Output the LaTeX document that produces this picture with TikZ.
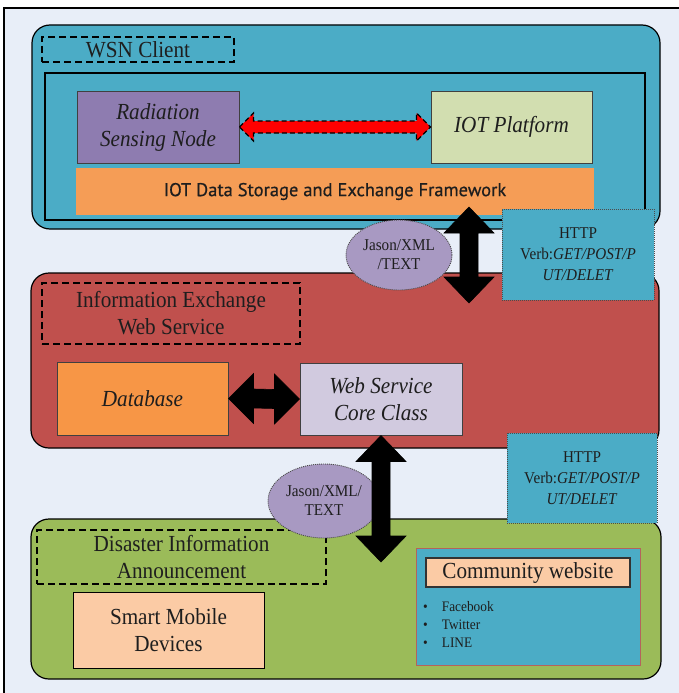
\documentclass[tikz,border=0pt]{standalone}
\usepackage{fontspec}
\setmainfont{Liberation Serif}[FakeStretch=0.92]
\newfontfamily\barfont{PT Sans}[FakeBold=0.6]
\usetikzlibrary{shapes.geometric,calc}

\definecolor{pagebg}{HTML}{E8EEF8}
\definecolor{tealpanel}{HTML}{4BACC6}
\definecolor{redpanel}{HTML}{C0504D}
\definecolor{greenpanel}{HTML}{9BBB59}
\definecolor{sensorpurple}{HTML}{8E7CB0}
\definecolor{platformgreen}{HTML}{D2DEB0}
\definecolor{barorange}{HTML}{F59D56}
\definecolor{dborange}{HTML}{F79646}
\definecolor{corelilac}{HTML}{D1CADF}
\definecolor{bubblepurple}{HTML}{A899C2}
\definecolor{peach}{HTML}{FBCBA5}
\definecolor{sitebrd}{HTML}{B5635C}
\definecolor{inkdark}{HTML}{1E1E1E}

\newcommand\lblfont{\fontsize{23}{27}\selectfont}
\newcommand\httpfont{\fontsize{16.5}{21}\selectfont}
\newcommand\bubblefont{\fontsize{16.5}{19}\selectfont}
\newcommand\listfont{\fontsize{14.5}{18}\selectfont}

% double-headed block arrow between two points, left to right
% #1 style, #2 left tip, #3 right tip, #4 head length, #5 head half-width, #6 shaft half-width
\newcommand\hblockarrow[6]{\path[#1] (#2) -- ($(#2)+(#4,-#5)$) -- ($(#2)+(#4,-#6)$)
  -- ($(#3)+(-#4,-#6)$) -- ($(#3)+(-#4,-#5)$) -- (#3) -- ($(#3)+(-#4,#5)$)
  -- ($(#3)+(-#4,#6)$) -- ($(#2)+(#4,#6)$) -- ($(#2)+(#4,#5)$) -- cycle;}
% same, top to bottom
\newcommand\vblockarrow[6]{\path[#1] (#2) -- ($(#2)+(#5,#4)$) -- ($(#2)+(#6,#4)$)
  -- ($(#3)+(#6,-#4)$) -- ($(#3)+(#5,-#4)$) -- (#3) -- ($(#3)+(-#5,-#4)$)
  -- ($(#3)+(-#6,-#4)$) -- ($(#2)+(-#6,#4)$) -- ($(#2)+(-#5,#4)$) -- cycle;}

\tikzset{
  panel/.style={draw=black, line width=1.2pt, rounded corners=18pt, inner sep=0pt},
  tagbox/.style={draw=black, line width=1.5pt, dash pattern=on 7pt off 4pt,
    inner sep=0pt, align=center, font=\lblfont, text=inkdark},
  unit/.style={draw=black!75, line width=1pt, inner sep=0pt, align=center,
    font=\lblfont\itshape, text=inkdark},
  httpbox/.style={draw=black!70, line width=0.9pt, dash pattern=on 1pt off 1pt,
    fill=tealpanel, inner sep=0pt, align=center, font=\httpfont, text=inkdark},
  bubble/.style={ellipse, draw=black!70, line width=0.9pt, dash pattern=on 1pt off 1pt,
    fill=bubblepurple, inner sep=0pt, align=center, font=\bubblefont, text=inkdark},
  blockarrow/.style={fill=black, draw=black, line width=0.6pt},
  linkarrow/.style={fill=red, draw=black, line width=1.1pt, dash pattern=on 5pt off 3pt}
}

\begin{document}
\begin{tikzpicture}[x=1pt,y=-1pt]
\useasboundingbox (0,0) rectangle (678,693);
\fill[white] (0,0) rectangle (678,693);
\fill[pagebg] (4,8) rectangle (690,700);
\draw[line width=2.2pt] (4,700) -- (4,8) -- (690,8);

% ---- WSN client layer
\node[panel, fill=tealpanel, minimum width=628pt, minimum height=204pt] (wsn) at (346,127) {};
\node[tagbox, minimum width=192pt, minimum height=25pt] (wsntag) at (138,49.5) {WSN Client};
\node[draw=black, line width=1.4pt, inner sep=0pt, minimum width=600pt, minimum height=147pt] (wsncore) at (345,146.5) {};
\node[unit, fill=sensorpurple, minimum width=162pt, minimum height=72pt] (sensor) at (158,127) {Radiation\\Sensing Node};
\node[unit, fill=platformgreen, minimum width=161pt, minimum height=72pt] (platform) at (511.5,127) {IOT Platform};
\node[fill=barorange, inner sep=0pt, minimum width=518pt, minimum height=47pt,
      font=\barfont\fontsize{18.5}{21}\selectfont, text=inkdark] (framework) at (335,191.5)
      {IOT Data Storage and Exchange Framework};

% ---- web service layer
\node[panel, fill=redpanel, minimum width=628pt, minimum height=175pt] (ws) at (345,360.5) {};
\node[tagbox, minimum width=258pt, minimum height=61pt] (wstag) at (171,313.5) {Information Exchange\\Web Service};
\node[unit, fill=dborange, minimum width=171pt, minimum height=73pt] (db) at (142.5,398.5) {Database};
\node[unit, fill=corelilac, minimum width=162pt, minimum height=72pt] (webcore) at (381,399) {Web Service\\Core Class};

% ---- announcement layer
\node[panel, fill=greenpanel, minimum width=630pt, minimum height=160pt] (ann) at (346,599) {};
\node[tagbox, minimum width=289pt, minimum height=54pt] (anntag) at (181.5,557) {Disaster Information\\Announcement};
\node[unit, draw=black, fill=peach, font=\lblfont, minimum width=191pt, minimum height=76pt] (mobile) at (168.5,630) {Smart Mobile\\Devices};
\node[draw=sitebrd, line width=1pt, fill=tealpanel, inner sep=0pt, minimum width=224pt, minimum height=117pt] (site) at (528,606.5) {};
\node[draw=black!80, line width=1.2pt, fill=peach, inner sep=0pt, minimum width=204pt, minimum height=29pt,
      font=\lblfont, text=inkdark] (sitelabel) at (528,572.5) {Community website};
\node[anchor=north west, inner sep=0pt, font=\listfont, text=inkdark] (sitelist) at (423,599)
  {\begin{tabular}{@{}l@{\hspace{14pt}}l@{}}\textbullet & Facebook\\ \textbullet & Twitter\\ \textbullet & LINE\end{tabular}};

% ---- payload formats
\node[bubble, minimum width=106pt, minimum height=70pt] (fmtA) at (399,255) {Jason/XML\\/TEXT};
\node[bubble, minimum width=112pt, minimum height=74pt] (fmtB) at (324,501) {Jason/XML/\\TEXT};

% ---- links
\hblockarrow{linkarrow}{sensor.east}{platform.west}{14}{14}{6}
\coordinate (upA) at (469,207);
\coordinate (upB) at (469,303);
\coordinate (downB) at (381,562);
\vblockarrow{blockarrow}{upA}{upB}{26}{25}{9}
\hblockarrow{blockarrow}{db.east}{webcore.west}{25}{25}{9.5}
\vblockarrow{blockarrow}{webcore.south}{downB}{26}{25}{9}

% ---- protocol notes
\node[httpbox, minimum width=152pt, minimum height=91pt] (httpA) at (578,254.5)
  {HTTP\\Verb:\textit{GET/POST/P}\\\textit{UT/DELET}};
\node[httpbox, minimum width=150pt, minimum height=90pt] (httpB) at (582,478)
  {HTTP\\Verb:\textit{GET/POST/P}\\\textit{UT/DELET}};
\end{tikzpicture}
\end{document}
